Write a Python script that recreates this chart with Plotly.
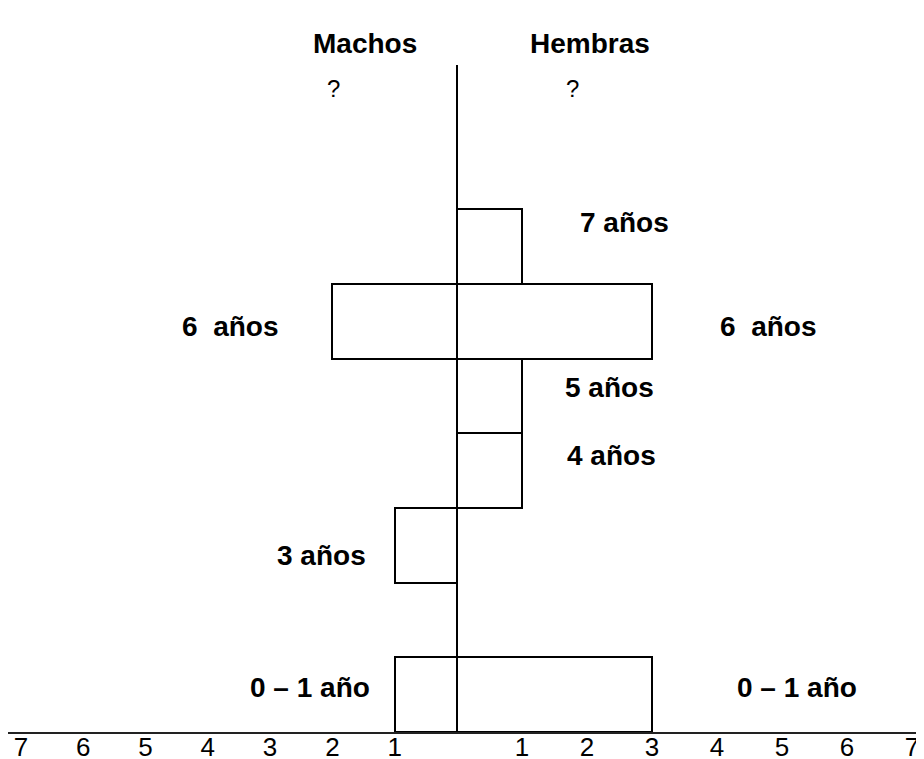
import plotly.graph_objects as go

# age classes, bottom to top
AGE_CLASSES = ["0 – 1 año", "2 años", "3 años", "4 años", "5 años", "6 años", "7 años"]
MALES = [1, 0, 1, 0, 0, 2, 0]
FEMALES = [3, 0, 0, 1, 1, 3, 1]

# text beside the bars: (age class, side, text)
LABELS = [
    ("0 – 1 año", "M", "0 – 1 año"),
    ("0 – 1 año", "F", "0 – 1 año"),
    ("3 años", "M", "3 años"),
    ("4 años", "F", "4 años"),
    ("5 años", "F", "5 años"),
    ("6 años", "M", "6  años"),
    ("6 años", "F", "6  años"),
    ("7 años", "F", "7 años"),
]
TICKS_M = [-7, -6, -5, -4, -3, -2, -1]
TICKS_F = [1, 2, 3, 4, 5, 6, 7]

FONT = "Liberation Sans, Arial, sans-serif"
BOLD = dict(family=FONT, size=28, color="black", weight="bold")

# the page body has an 8px margin, so the figure is sized to the visible area
W, H = 916, 751
CENTER = 449        # px of zero from the figure's left edge
UNIT_M = 62.3       # px per individual, males side
UNIT_F = 65.0       # px per individual, females side
SPLIT = CENTER / W

fig = go.Figure()

bar_style = dict(color="white", line=dict(color="black", width=2))
fig.add_trace(go.Bar(
    y=AGE_CLASSES, x=[-v if v else None for v in MALES],
    orientation="h", marker=bar_style, name="Machos", hoverinfo="skip",
    xaxis="x", yaxis="y",
))
fig.add_trace(go.Bar(
    y=AGE_CLASSES, x=[v if v else None for v in FEMALES],
    orientation="h", marker=bar_style, name="Hembras", hoverinfo="skip",
    xaxis="x2", yaxis="y",
))

# labels, placed from bar ends (pixel nudges only)
xshift = {("0 – 1 año", "M"): -23, ("0 – 1 año", "F"): 83, ("3 años", "M"): -27,
          ("4 años", "F"): 43, ("5 años", "F"): 41, ("6 años", "M"): -52,
          ("6 años", "F"): 66, ("7 años", "F"): 56}
yshift = {("0 – 1 año", "M"): 7, ("0 – 1 año", "F"): 7, ("3 años", "M"): -10,
          ("4 años", "F"): 15, ("5 años", "F"): 8, ("6 años", "M"): -5,
          ("6 años", "F"): -5, ("7 años", "F"): 24}
for age, side, text in LABELS:
    i = AGE_CLASSES.index(age)
    male = side == "M"
    fig.add_annotation(
        x=-MALES[i] if male else FEMALES[i], y=age,
        xref="x" if male else "x2", yref="y",
        text=text, showarrow=False, font=BOLD,
        xanchor="right" if male else "left",
        xshift=xshift[(age, side)], yshift=yshift[(age, side)],
    )

# headers and unknown older classes
fig.add_annotation(x=0.3897, y=1.0585, xref="paper", yref="paper", text="Machos",
                   showarrow=False, font=BOLD)
fig.add_annotation(x=0.6354, y=1.0585, xref="paper", yref="paper", text="Hembras",
                   showarrow=False, font=BOLD)
fig.add_annotation(x=-1.99, y=8.12, xref="x", yref="y", text="?", showarrow=False,
                   font=dict(family=FONT, size=24, color="black"))
fig.add_annotation(x=1.78, y=8.12, xref="x2", yref="y", text="?", showarrow=False,
                   font=dict(family=FONT, size=24, color="black"))

fig.update_layout(
    width=W, height=H,
    margin=dict(l=0, r=0, t=57, b=27, autoexpand=False),
    paper_bgcolor="white", plot_bgcolor="white",
    barmode="overlay", bargap=0,
    showlegend=False,
    font=dict(family=FONT, color="black"),
)
axis_common = dict(
    tickfont=dict(family=FONT, size=26, color="black"),
    ticks="", ticklabelstandoff=-9,
    showgrid=False, showline=True, linecolor="#222", linewidth=2,
    zeroline=False, anchor="y",
)
fig.update_layout(
    xaxis=dict(domain=[0, SPLIT], range=[-CENTER / UNIT_M, 0],
               tickvals=TICKS_M, ticktext=[str(-v) for v in TICKS_M], **axis_common),
    xaxis2=dict(domain=[SPLIT, 1], range=[0, (W - CENTER) / UNIT_F],
                tickvals=TICKS_F, ticktext=[str(v) for v in TICKS_F], **axis_common),
    yaxis=dict(
        type="category", categoryorder="array", categoryarray=AGE_CLASSES,
        range=[-0.5, 8.43], showticklabels=False, showgrid=False,
        showline=True, linecolor="black", linewidth=2,
        anchor="free", position=SPLIT,
        zeroline=False, ticks="",
    ),
)

fig.write_html("out.html")
